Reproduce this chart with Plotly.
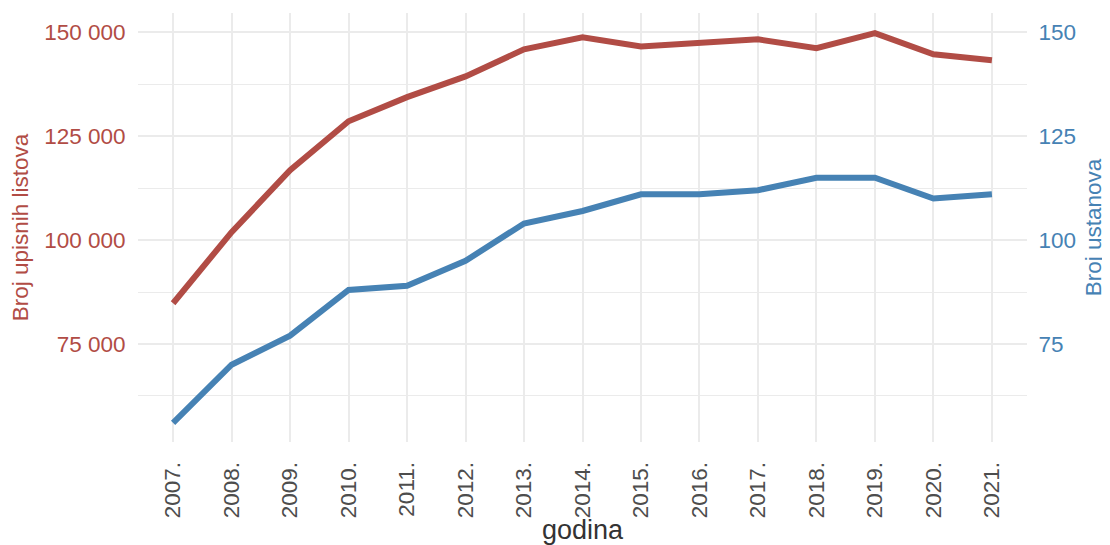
import plotly.graph_objects as go

years = ["2007.", "2008.", "2009.", "2010.", "2011.", "2012.", "2013.", "2014.",
         "2015.", "2016.", "2017.", "2018.", "2019.", "2020.", "2021."]
upisni_listovi = [84800, 101900, 116800, 128600, 134400, 139400, 145900, 148800,
                  146600, 147400, 148300, 146200, 149800, 144700, 143300]
ustanove = [56, 70, 77, 88, 89, 95, 104, 107, 111, 111, 112, 115, 115, 110, 111]

left_tickvals = [75000, 100000, 125000, 150000]
left_ticktext = ["75 000", "100 000", "125 000", "150 000"]
right_tickvals = [75, 100, 125, 150]
right_ticktext = ["75", "100", "125", "150"]

RED = "#B14C45"
BLUE = "#4682B4"
GRID = "#EBEBEB"
FONT = "Liberation Sans, Arial, sans-serif"

ymin, ymax = 51400, 154650

fig = go.Figure()
fig.add_trace(go.Scatter(x=years, y=upisni_listovi, mode="lines",
                         line=dict(color=RED, width=6), yaxis="y",
                         showlegend=False, hoverinfo="x+y"))
fig.add_trace(go.Scatter(x=years, y=ustanove, mode="lines",
                         line=dict(color=BLUE, width=6), yaxis="y2",
                         showlegend=False, hoverinfo="x+y"))

fig.update_layout(
    width=1102, height=537,
    margin=dict(l=130, r=83, t=5, b=103),
    plot_bgcolor="white", paper_bgcolor="white",
    font=dict(family=FONT),
    xaxis=dict(
        type="category", range=[-0.6, 14.6], automargin=False,
        showgrid=True, gridcolor=GRID, gridwidth=2,
        tickangle=-90, tickfont=dict(size=22.5, color="#4D4D4D"),
        ticks="outside", ticklen=10, tickcolor="rgba(0,0,0,0)",
        showline=False, zeroline=False,
        title=dict(text="godina", font=dict(size=27, color="#333333"), standoff=0),
    ),
    yaxis=dict(
        range=[ymin, ymax], automargin=False,
        tickvals=left_tickvals, ticktext=left_ticktext,
        tickfont=dict(size=22.5, color=RED),
        ticks="outside", ticklen=7, tickcolor="rgba(0,0,0,0)",
        showgrid=True, gridcolor=GRID, gridwidth=2,
        minor=dict(tick0=0, dtick=12500, showgrid=True, gridcolor=GRID, gridwidth=1),
        zeroline=False, showline=False,
        title=dict(text="Broj upisnih listova", font=dict(size=22.5, color=RED), standoff=10),
    ),
    yaxis2=dict(
        range=[ymin / 1000, ymax / 1000], automargin=False,
        overlaying="y", side="right",
        tickvals=right_tickvals, ticktext=right_ticktext,
        tickfont=dict(size=22.5, color=BLUE),
        ticks="outside", ticklen=6, tickcolor="rgba(0,0,0,0)",
        showgrid=False, zeroline=False, showline=False,
        title=dict(text="Broj ustanova", font=dict(size=22.5, color=BLUE), standoff=10),
    ),
)

fig.write_html("out.html")
